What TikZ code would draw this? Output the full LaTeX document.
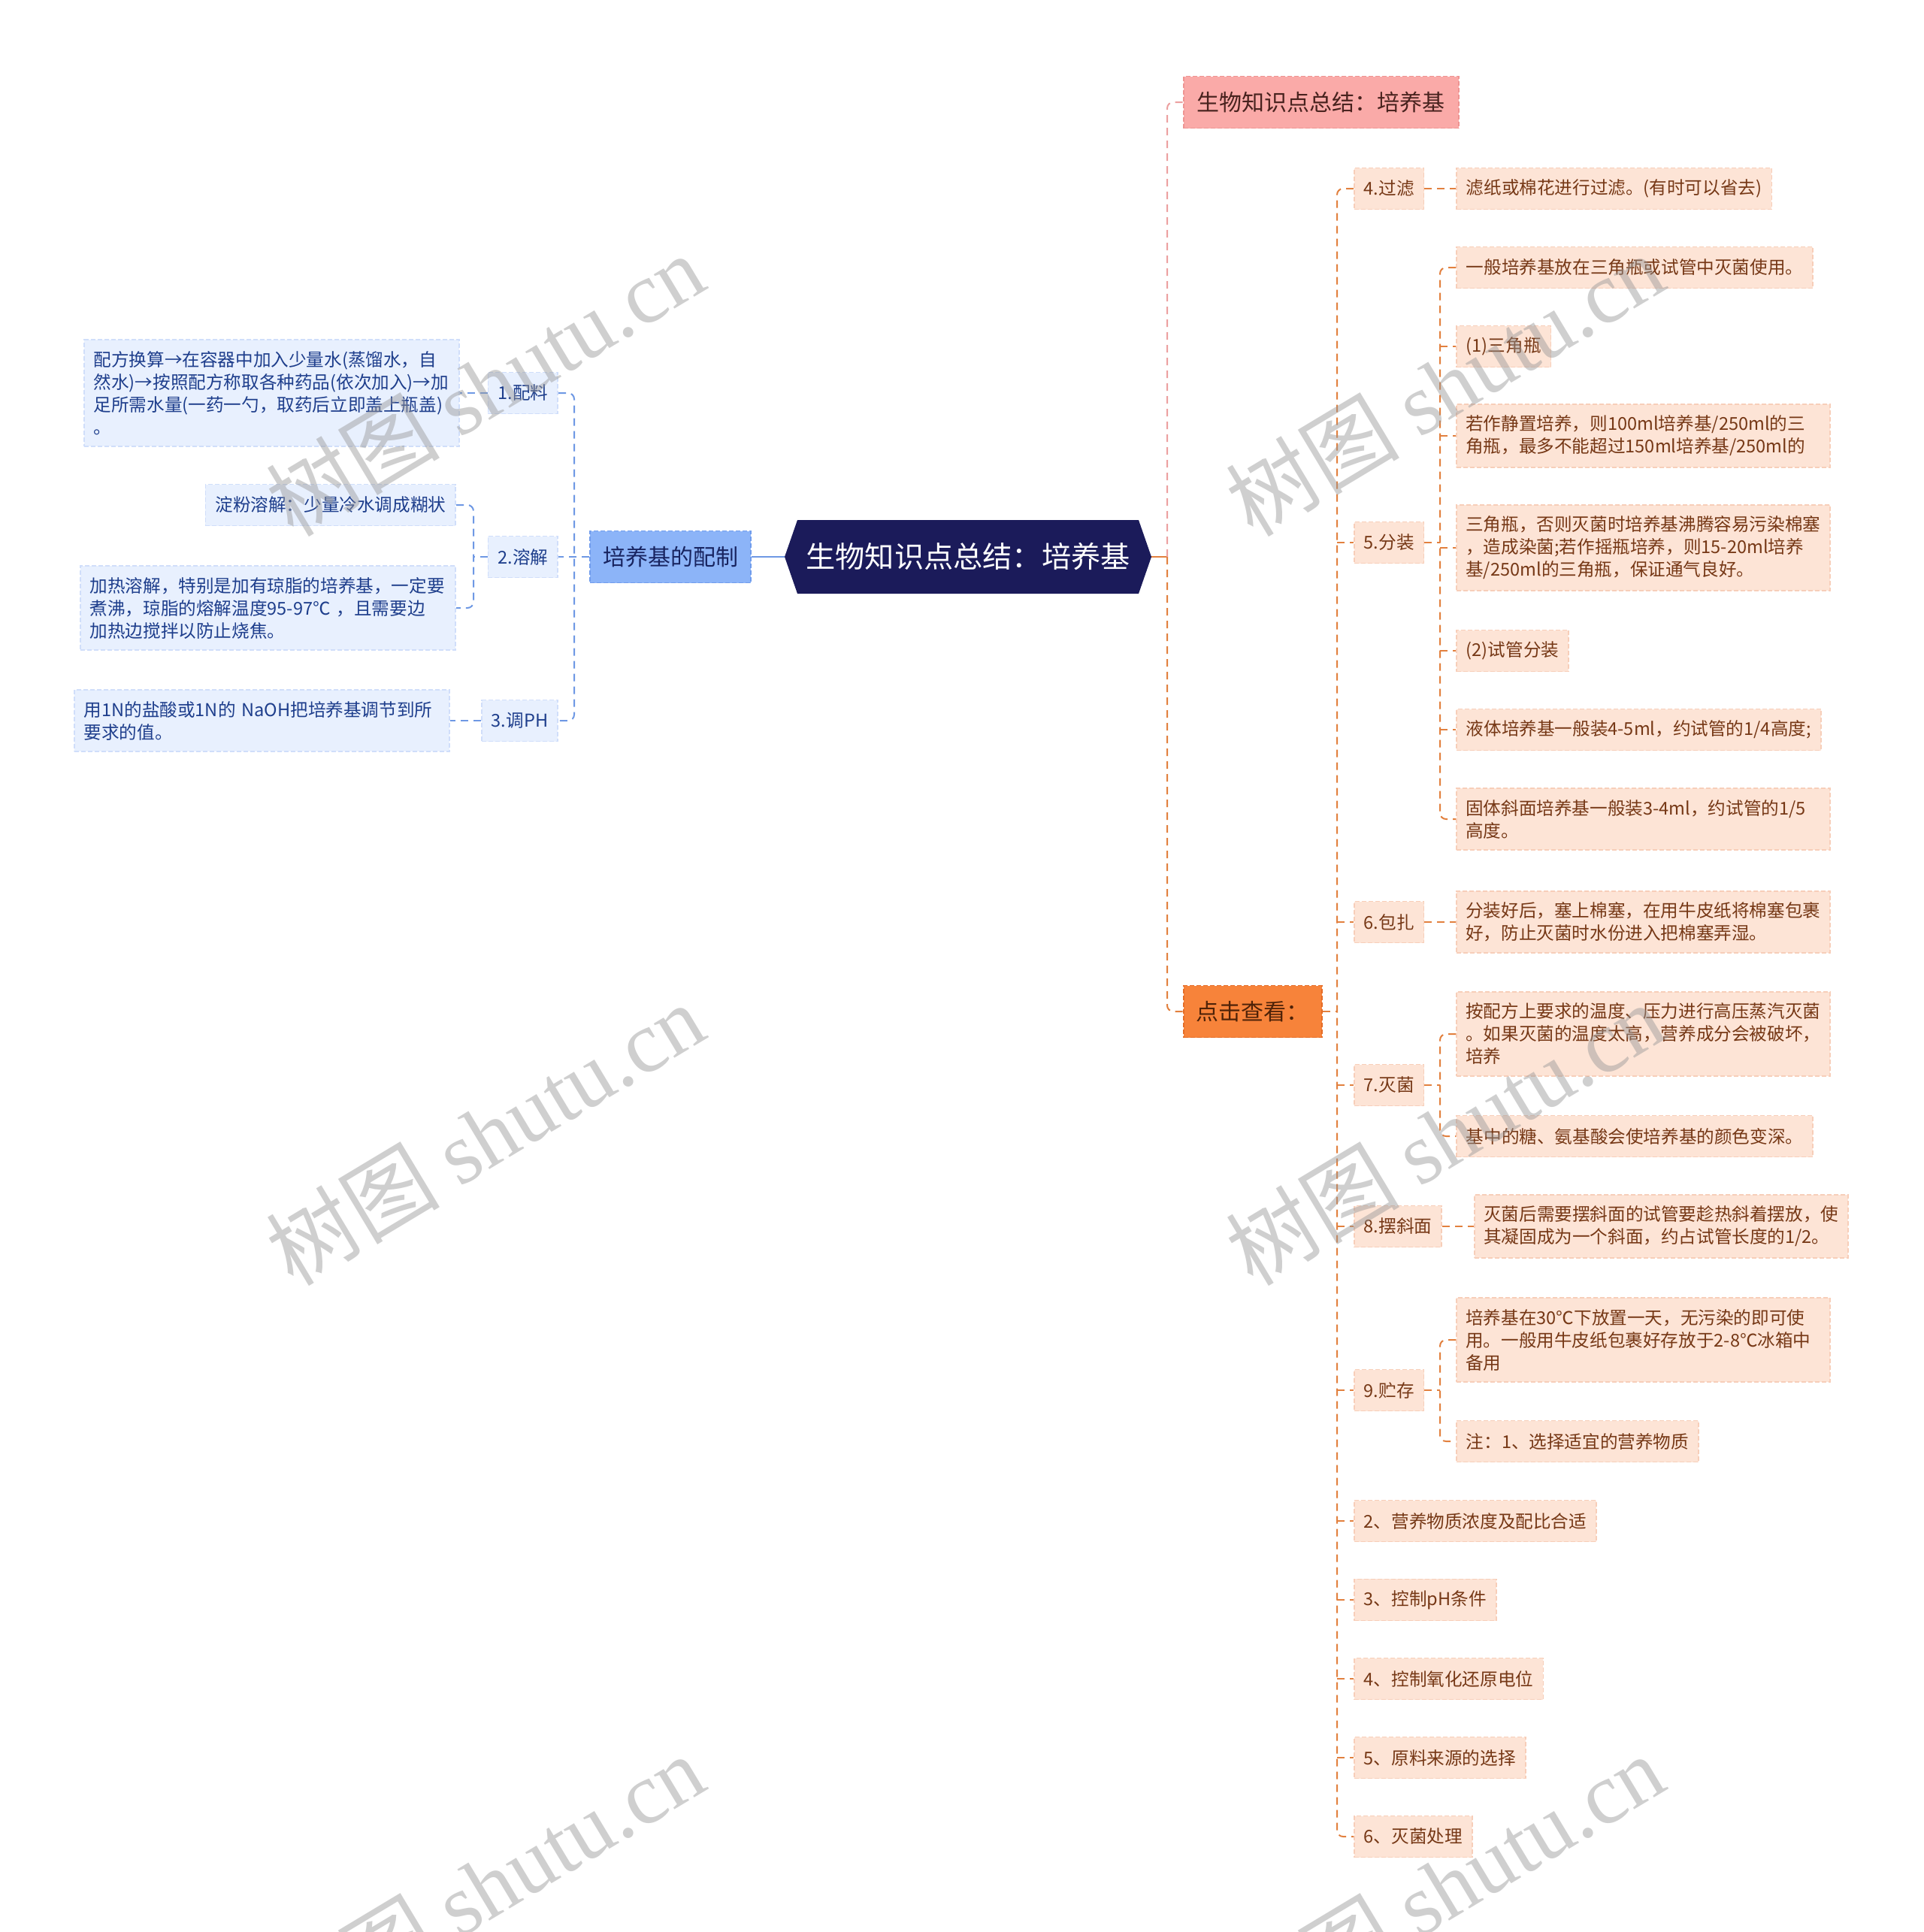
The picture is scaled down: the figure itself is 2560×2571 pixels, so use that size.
\documentclass[tikz,border=0pt]{standalone}
\usepackage{fontspec}
\setmainfont{Noto Sans CJK SC}
\newfontfamily\wmserif{Liberation Serif}
\usetikzlibrary{calc}
\definecolor{navy}{RGB}{27,27,90}
\definecolor{peach}{RGB}{253,228,214}
\definecolor{peachb}{RGB}{247,206,185}
\definecolor{brownt}{RGB}{118,56,22}
\definecolor{oline}{RGB}{226,128,62}
\definecolor{pinkf}{RGB}{250,170,168}
\definecolor{pinkb}{RGB}{238,148,146}
\definecolor{pinkl}{RGB}{236,160,160}
\definecolor{orangef}{RGB}{247,131,58}
\definecolor{orangeb}{RGB}{228,108,38}
\definecolor{bluef}{RGB}{232,240,254}
\definecolor{blueb}{RGB}{208,222,250}
\definecolor{bluet}{RGB}{30,62,140}
\definecolor{bline}{RGB}{110,152,228}
\definecolor{bluem}{RGB}{140,180,248}
\definecolor{bluemb}{RGB}{112,156,236}
\definecolor{wmgray}{RGB}{150,150,150}
\tikzset{
  nbase/.style={inner ysep=7.5pt, font=\fontsize{11.8pt}{15pt}\selectfont,
    dash pattern=on 3pt off 1.5pt, line width=0.8pt, minimum height=27.5pt},
  rn/.style={nbase, inner xsep=6.5pt, fill=peach, draw=peachb, text=brownt, anchor=west},
  rw/.style={rn, text width=236pt, inner xsep=6.25pt, align=left},
  ln/.style={nbase, inner xsep=6.5pt, fill=bluef, draw=blueb, text=bluet, anchor=east},
  lw/.style={ln, text width=237pt, inner xsep=6.25pt, align=left},
  lone/.style={inner xsep=8.5pt, minimum height=34.5pt, font=\fontsize{15pt}{18pt}\selectfont,
    dash pattern=on 3pt off 1.5pt, line width=0.8pt},
  odash/.style={draw=oline, line width=1pt, dash pattern=on 5pt off 3.5pt},
  pdash/.style={draw=pinkl, line width=1pt, dash pattern=on 5pt off 3.5pt},
  bdash/.style={draw=bline, line width=1pt, dash pattern=on 5pt off 3.5pt},
  wm/.style={rotate=31, text=wmgray, opacity=0.45, font=\fontsize{58pt}{58pt}\selectfont}
}
\begin{document}
\begin{tikzpicture}[x=0.5pt,y=-0.5pt]
\clip (0,0) rectangle (2560,2571);
\fill[white] (0,0) rectangle (2560,2571);

% central node
\coordinate (cc) at (1288,741);
\fill[navy] ($(cc)+(-244,0)$) -- ($(cc)+(-227,-49)$) -- ($(cc)+(227,-49)$) -- ($(cc)+(244,0)$)
  -- ($(cc)+(227,49)$) -- ($(cc)+(-227,49)$) -- cycle;
\node[minimum width=244pt, minimum height=49pt, inner sep=0pt, text=white,
  font=\fontsize{19.6pt}{23pt}\selectfont] (c) at (cc) {生物知识点总结：培养基};

% level 1
\node[lone, anchor=east, fill=bluem, draw=bluemb, text={rgb,255:red,24;green,36;blue,96}] (p) at (1000,741) {培养基的配制};
\node[lone, anchor=west, fill=pinkf, draw=pinkb, text={rgb,255:red,72;green,34;blue,30}, inner xsep=9pt] (t) at (1574,136) {生物知识点总结：培养基};
\node[lone, anchor=west, fill=orangef, draw=orangeb, text={rgb,255:red,78;green,34;blue,8}] (k) at (1574,1346) {点击查看：};

% left level 2
\node[ln] (a1) at (743,523) {1.配料};
\node[ln] (a2) at (743,741) {2.溶解};
\node[ln] (a3) at (743,959) {3.调PH};
% left level 3
\node[lw] (a1x) at (612,523) {配方换算→在容器中加入少量水(蒸馏水，自\\然水)→按照配方称取各种药品(依次加入)→加\\足所需水量(一药一勺，取药后立即盖上瓶盖)\\。};
\node[ln] (a2a) at (607,672) {淀粉溶解：少量冷水调成糊状};
\node[lw] (a2b) at (607,809) {加热溶解，特别是加有琼脂的培养基，一定要\\煮沸，琼脂的熔解温度95-97℃ ，且需要边\\加热边搅拌以防止烧焦。};
\node[lw] (a3x) at (599,959) {用1N的盐酸或1N的 NaOH把培养基调节到所\\要求的值。};

% right level 2
\node[rn] (r4) at (1801,251) {4.过滤};
\node[rn] (r5) at (1801,722) {5.分装};
\node[rn] (r6) at (1801,1227) {6.包扎};
\node[rn] (r7) at (1801,1444) {7.灭菌};
\node[rn] (r8) at (1801,1632) {8.摆斜面};
\node[rn] (r9) at (1801,1850) {9.贮存};
\node[rn] (z2) at (1801,2024) {2、营养物质浓度及配比合适};
\node[rn] (z3) at (1801,2129) {3、控制pH条件};
\node[rn] (z4) at (1801,2234) {4、控制氧化还原电位};
\node[rn] (z5) at (1801,2339) {5、原料来源的选择};
\node[rn] (z6) at (1801,2444) {6、灭菌处理};

% right level 3
\node[rn] (r4a) at (1937,251) {滤纸或棉花进行过滤。(有时可以省去)};
\node[rn] (r5a) at (1937,356) {一般培养基放在三角瓶或试管中灭菌使用。};
\node[rn] (r5b) at (1937,461) {(1)三角瓶};
\node[rw] (r5c) at (1937,580) {若作静置培养，则100ml培养基/250ml的三\\角瓶，最多不能超过150ml培养基/250ml的};
\node[rw] (r5d) at (1937,729) {三角瓶，否则灭菌时培养基沸腾容易污染棉塞\\，造成染菌;若作摇瓶培养，则15-20ml培养\\基/250ml的三角瓶，保证通气良好。};
\node[rn] (r5e) at (1937,866) {(2)试管分装};
\node[rn] (r5f) at (1937,971) {液体培养基一般装4-5ml，约试管的1/4高度;};
\node[rw] (r5g) at (1937,1090) {固体斜面培养基一般装3-4ml，约试管的1/5\\高度。};
\node[rw] (r6a) at (1937,1227) {分装好后，塞上棉塞，在用牛皮纸将棉塞包裹\\好，防止灭菌时水份进入把棉塞弄湿。};
\node[rw] (r7a) at (1937,1376) {按配方上要求的温度、压力进行高压蒸汽灭菌\\。如果灭菌的温度太高，营养成分会被破坏，\\培养};
\node[rn] (r7b) at (1937,1512) {基中的糖、氨基酸会使培养基的颜色变深。};
\node[rw] (r8a) at (1961,1632) {灭菌后需要摆斜面的试管要趁热斜着摆放，使\\其凝固成为一个斜面，约占试管长度的1/2。};
\node[rw] (r9a) at (1937,1783) {培养基在30℃下放置一天，无污染的即可使\\用。一般用牛皮纸包裹好存放于2-8℃冰箱中\\备用};
\node[rn] (r9b) at (1937,1918) {注：1、选择适宜的营养物质};

% ---- connectors left
\draw[bline, line width=1.2pt] (c.west) -- (p.east);
\coordinate (lv) at (764,741);
\draw[bdash, rounded corners=4pt] (a1.east) -- (lv |- a1.east) -- (lv |- a3.east) -- (a3.east);
\draw[bdash] (p.west) -- (a2.east);
\draw[bdash] (a1.west) -- (a1x.east);
\coordinate (lv2) at (630,741);
\draw[bdash, rounded corners=4pt] (a2a.east) -- (lv2 |- a2a.east) -- (lv2 |- a2b.east) -- (a2b.east);
\draw[bdash] (a2.west) -- (lv2);
\draw[bdash] (a3.west) -- (a3x.east);

% ---- connectors right
\coordinate (cv) at (1553,741);
\draw[oline, line width=1.2pt] (c.east) -- (cv);
\draw[pdash, rounded corners=4pt] (cv) -- (cv |- t.west) -- (t.west);
\draw[odash, rounded corners=4pt] (cv) -- (cv |- k.west) -- (k.west);
\coordinate (kv) at (1779,1346);
\draw[odash] (k.east) -- (kv);
\draw[odash, rounded corners=4pt] (r4.west) -- (kv |- r4.west) -- (kv |- z6.west) -- (z6.west);
\foreach \n in {r5,r6,r7,r8,r9,z2,z3,z4,z5} \draw[odash] (kv |- \n.west) -- (\n.west);
\draw[odash] (r4.east) -- (r4a.west);
\coordinate (v5) at (1916,722);
\draw[odash, rounded corners=4pt] (r5a.west) -- (v5 |- r5a.west) -- (v5 |- r5g.west) -- (r5g.west);
\foreach \n in {r5b,r5c,r5d,r5e,r5f} \draw[odash] (v5 |- \n.west) -- (\n.west);
\draw[odash] (r5.east) -- (v5);
\draw[odash] (r6.east) -- (r6a.west);
\coordinate (v7) at (1916,1444);
\draw[odash, rounded corners=4pt] (r7a.west) -- (v7 |- r7a.west) -- (v7 |- r7b.west) -- (r7b.west);
\draw[odash] (r7.east) -- (v7);
\draw[odash] (r8.east) -- (r8a.west);
\coordinate (v9) at (1916,1850);
\draw[odash, rounded corners=4pt] (r9a.west) -- (v9 |- r9a.west) -- (v9 |- r9b.west) -- (r9b.west);
\draw[odash] (r9.east) -- (v9);

% ---- watermarks
\foreach \wx/\wy [count=\i] in {645/512,645/1509,1922/512,1922/1509,645/2509,1922/2509}
  \node[wm] (wm\i) at (\wx,\wy) {树图 {\wmserif shutu.cn}};
\end{tikzpicture}
\end{document}
